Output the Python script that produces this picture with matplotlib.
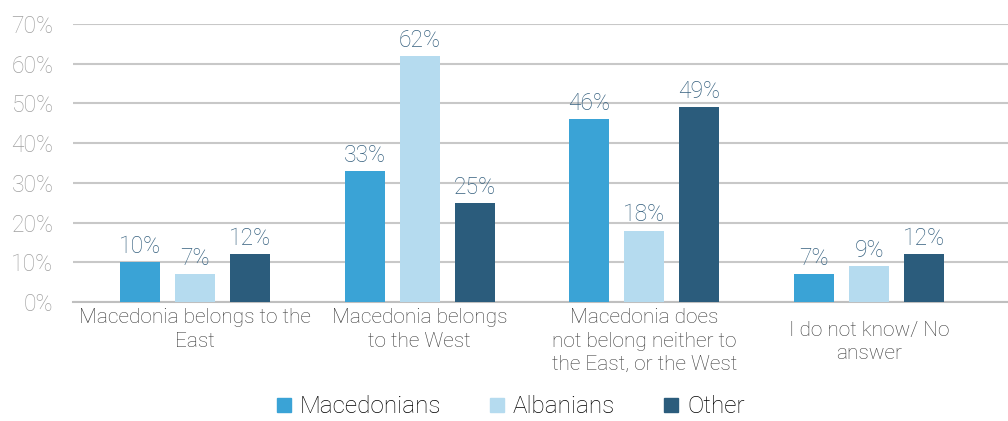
import matplotlib
matplotlib.use("Agg")
import matplotlib.pyplot as plt
import numpy as np
from matplotlib.lines import Line2D

plt.rcParams['font.family'] = ['Roboto', 'DejaVu Sans']

categories = [
    "Macedonia belongs to the\nEast",
    "Macedonia belongs\nto the West",
    "Macedonia does\nnot belong neither to\nthe East, or the West",
    "I do not know/ No\nanswer",
]
series_names = ["Macedonians", "Albanians", "Other"]
macedonians = [10, 33, 46, 7]
albanians = [7, 62, 18, 9]
other = [12, 25, 49, 12]
yticks = [0, 10, 20, 30, 40, 50, 60, 70]

colors = ["#3aa3d6", "#b5dbef", "#2b5c7c"]
label_color = "#35607f"

fig = plt.figure(figsize=(10.08, 4.21), dpi=100)
ax = fig.add_axes([0.0724, 0.2827, 0.9276, 0.6603])

x = np.arange(len(categories))
width = 0.178
step = 0.245
for k, (vals, col) in enumerate(zip([macedonians, albanians, other], colors)):
    pos = x + (k - 1) * step
    ax.bar(pos, vals, width=width, color=col, zorder=3)
    for p, v in zip(pos, vals):
        ax.annotate(f"{v}%", (p, v), xytext=(0, 3), textcoords="offset points",
                    ha="center", va="bottom", fontsize=16.5, color=label_color,
                    fontweight="light", zorder=4)

ax.set_xlim(-0.543, 3.618)
ax.set_ylim(0, 70)
ax.set_yticks(yticks)
ax.set_yticklabels([f"{t}%" for t in yticks], fontsize=16.5, color="#a0a0a0",
                   fontweight="light")
ax.yaxis.grid(True, color="#c8c8c8", linewidth=1.5, zorder=0)
ax.tick_params(axis="y", length=0, pad=14)
ax.tick_params(axis="x", length=0)
ax.set_xticks([])
for s in ["top", "right", "left"]:
    ax.spines[s].set_visible(False)
ax.spines["bottom"].set_color("#bfbfbf")
ax.spines["bottom"].set_linewidth(1.5)

# category captions under the baseline
extra_drop = [0, 0, 0, 9]
for i, (cat, d) in enumerate(zip(categories, extra_drop)):
    ax.annotate(cat, (i, 0), xycoords=("data", "axes fraction"),
                xytext=(0, -4.5 - d), textcoords="offset points",
                ha="center", va="top", fontsize=15, color="#3a3a3a",
                fontweight="light", linespacing=1.3)

handles = [Line2D([], [], marker="s", linestyle="none", markersize=10,
                  markerfacecolor=c, markeredgecolor=c) for c in colors]
fig.legend(handles, series_names, loc="center", bbox_to_anchor=(0.503, 0.034),
           ncol=3, frameon=False, handletextpad=0.05, handlelength=1.2,
           columnspacing=1.7, borderpad=0.1, prop={"size": 17.5, "weight": "light"})

fig.savefig("out.png", dpi=100)
